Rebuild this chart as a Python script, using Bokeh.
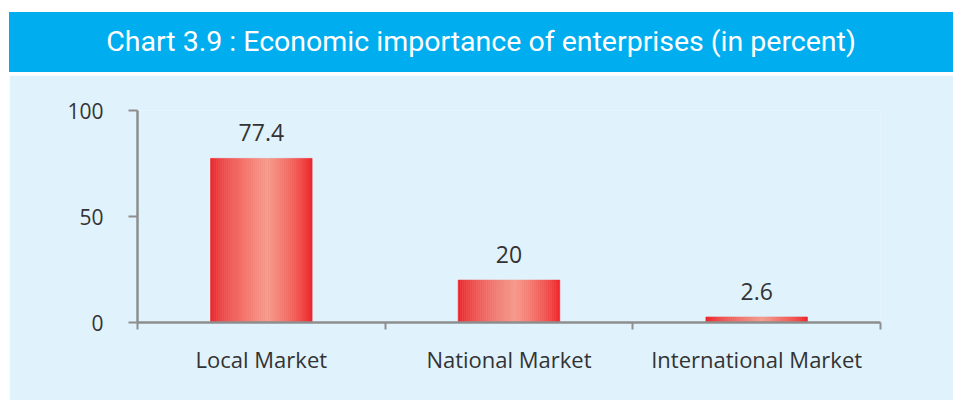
from bokeh.plotting import figure
from bokeh.models import ColumnDataSource, FixedTicker, Range1d, LabelSet, Div
from bokeh.layouts import column
from bokeh.embed import file_html
from bokeh.resources import INLINE
from bokeh.core.properties import value

# ---- data ----
categories = ["Local Market", "National Market", "International Market"]
shares = [77.4, 20, 2.6]
value_labels = ["77.4", "20", "2.6"]
y_ticks = [0, 50, 100]
title_text = "Chart 3.9 : Economic importance of enterprises (in percent)"

W = 944
FONT = "Open Sans"
BAND = "#00aeef"
PANEL = "#e0f2fc"
AXIS = "#8e8e8e"
TXT = "#333333"

# ---- title band ----
head = Div(text=title_text, width=W, height=60, margin=(12, 0, 3, 9),
           styles={"background-color": BAND, "color": "white",
                   "font-family": "Roboto", "font-size": "28.5px",
                   "text-align": "center", "line-height": "60px",
                   "white-space": "nowrap"})

# ---- main chart ----
n = len(categories)
p = figure(width=W, height=325, output_backend="svg", toolbar_location=None,
           x_range=Range1d(0, n), y_range=Range1d(0, 100),
           min_border_left=128, min_border_right=73,
           min_border_top=35, min_border_bottom=78, margin=(0, 0, 0, 9))
p.background_fill_color = PANEL
p.border_fill_color = PANEL
p.outline_line_color = None
p.grid.visible = False

# gradient bars built from thin slices
bar_w = 0.41
N = 50
edge = (237, 30, 36)
mid = (245, 155, 140)
peak = 0.56
xs, tops, ws, cols = [], [], [], []
for i, v in enumerate(shares):
    for k in range(N):
        f = (k + 0.5) / N
        t = f / peak if f <= peak else (1 - f) / (1 - peak)
        t = t ** 0.7
        c = tuple(int(round(edge[j] + (mid[j] - edge[j]) * t)) for j in range(3))
        xs.append(i + 0.5 - bar_w / 2 + (k + 0.5) * bar_w / N)
        tops.append(v)
        ws.append(bar_w / N)
        cols.append("#%02x%02x%02x" % c)
src = ColumnDataSource(dict(x=xs, top=tops, w=ws, c=cols))
p.vbar(x="x", top="top", bottom=0, width="w", fill_color="c", line_color="c",
       line_width=0.6, source=src)

lab_src = ColumnDataSource(dict(x=[i + 0.5 for i in range(n)], y=shares, t=value_labels))
p.add_layout(LabelSet(x="x", y="y", text="t", source=lab_src, y_offset=17,
                      text_align="center", text_baseline="bottom",
                      text_font=value(FONT), text_font_size="23px", text_color=TXT))

# x axis: boundaries as minor ticks, category names at centres
xa = p.xaxis[0]
xa.ticker = FixedTicker(ticks=[i + 0.5 for i in range(n)], minor_ticks=list(range(n + 1)))
xa.major_label_overrides = {i + 0.5: c for i, c in enumerate(categories)}
xa.major_tick_line_color = None
xa.minor_tick_in = 0
xa.minor_tick_out = 7
xa.minor_tick_line_color = AXIS
xa.minor_tick_line_width = 2
xa.axis_line_color = AXIS
xa.axis_line_width = 2.5
xa.major_label_standoff = 14
xa.major_label_text_font = FONT
xa.major_label_text_font_size = "22px"
xa.major_label_text_color = TXT

ya = p.yaxis[0]
ya.ticker = FixedTicker(ticks=y_ticks, minor_ticks=[])
ya.major_tick_in = 0
ya.major_tick_out = 9
ya.major_tick_line_color = AXIS
ya.major_tick_line_width = 2
ya.axis_line_color = AXIS
ya.axis_line_width = 2.5
ya.major_label_standoff = 25
ya.major_label_text_font = FONT
ya.major_label_text_font_size = "21px"
ya.major_label_text_color = TXT

layout = column(head, p, spacing=0)
open("out.html", "w").write(file_html(layout, INLINE))
